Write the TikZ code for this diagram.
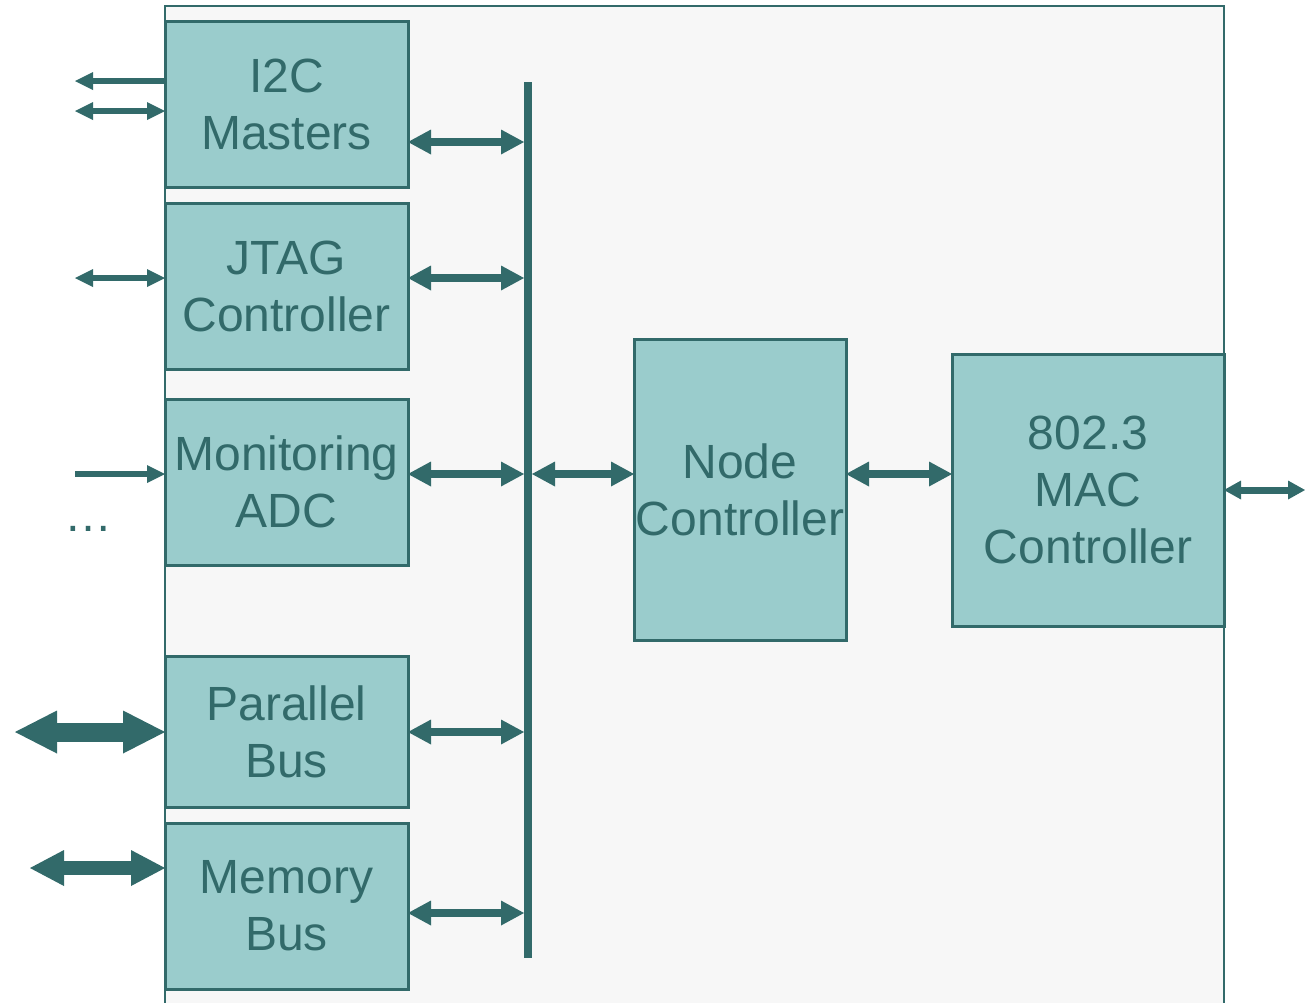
\documentclass[tikz,border=0pt]{standalone}
\usepackage{fontspec}
\setmainfont{Liberation Sans}
\usetikzlibrary{arrows.meta}
\definecolor{tealdark}{HTML}{326A6A}
\definecolor{tealfill}{HTML}{9ACCCC}
\definecolor{panelbg}{HTML}{F7F7F7}
\begin{document}
\begin{tikzpicture}[x=1pt,y=-1pt,
  block/.style={draw=tealdark, line width=3pt, fill=tealfill, text=tealdark,
    font=\fontsize{48}{57}\selectfont, align=center, inner sep=0pt, outer sep=0pt,
    minimum width=243pt, minimum height=166pt},
  busbar/.style={fill=tealdark, inner sep=0pt, outer sep=0pt, minimum width=8pt, minimum height=876pt},
  smallarr/.style={draw=tealdark, line width=6pt, arrows={-{Triangle[length=18pt,width=18pt,line width=0pt]}}},
  smallbi/.style={draw=tealdark, line width=6pt, arrows={{Triangle[length=18pt,width=18pt,line width=0pt]}-{Triangle[length=18pt,width=18pt,line width=0pt]}}},
  midbi/.style={draw=tealdark, line width=8.5pt, arrows={{Triangle[length=23pt,width=25pt,line width=0pt]}-{Triangle[length=23pt,width=25pt,line width=0pt]}}},
  outbi/.style={draw=tealdark, line width=7pt, arrows={{Triangle[length=17pt,width=19pt,line width=0pt]}-{Triangle[length=17pt,width=19pt,line width=0pt]}}},
  parbi/.style={draw=tealdark, line width=19pt, arrows={{Triangle[length=42pt,width=43pt,line width=0pt]}-{Triangle[length=42pt,width=43pt,line width=0pt]}}},
  membi/.style={draw=tealdark, line width=14pt, arrows={{Triangle[length=34pt,width=36pt,line width=0pt]}-{Triangle[length=34pt,width=36pt,line width=0pt]}}}
]
\clip (0,0) rectangle (1305,1002);
\fill[white] (0,0) rectangle (1305,1002);

% chip outline
\draw[draw=tealdark, line width=2.5pt, fill=panelbg] (165,6) rectangle (1224,1012);

% peripheral blocks
\node[block] (i2c)  at (286.5,104)   {I2C\\Masters};
\node[block] (jtag) at (286.5,286)   {JTAG\\Controller};
\node[block] (adc)  at (286.5,482)   {Monitoring\\ADC};
\node[block, minimum height=151pt] (par) at (286.5,731.5) {Parallel\\Bus};
\node[block] (mem)  at (286.5,906)   {Memory\\Bus};

% internal bus
\node[busbar] (bus) at (528,520) {};

% controllers
\node[block, minimum width=212pt, minimum height=301pt] (node) at (740,489.5) {Node\\Controller};
\node[block, minimum width=272pt, minimum height=272pt] (mac)  at (1088,490)  {802.3\\MAC\\Controller};

% external end points
\coordinate (i2cA) at (75,81);
\coordinate (i2cB) at (75,111);
\coordinate (jtagX) at (75,278);
\coordinate (adcX) at (75,474);
\coordinate (parX) at (15,732);
\coordinate (memX) at (30,868);
\coordinate (macX) at (1305,490);

% external connections
\draw[smallarr] (i2c.west |- i2cA) -- (i2cA);
\draw[smallbi] (i2cB) -- (i2c.west |- i2cB);
\draw[smallbi] (jtagX) -- (jtag.west |- jtagX);
\draw[smallarr] (adcX) -- (adc.west |- adcX);
\node[text=tealdark, font=\fontsize{48}{57}\selectfont, anchor=base, inner sep=0pt] (more) at (88,531) {…};
\draw[parbi] (parX) -- (par.west |- parX);
\draw[membi] (memX) -- (mem.west |- memX);
\draw[outbi] (mac.east |- macX) -- (macX);

% bus connections
\draw[midbi] (i2c.east |- 0,142) -- (bus.west |- 0,142);
\draw[midbi] (jtag.east |- 0,278) -- (bus.west |- 0,278);
\draw[midbi] (adc.east |- 0,474) -- (bus.west |- 0,474);
\draw[midbi] (par.east |- 0,732) -- (bus.west |- 0,732);
\draw[midbi] (mem.east |- 0,913) -- (bus.west |- 0,913);
\draw[midbi] (bus.east |- 0,474) -- (node.west |- 0,474);
\draw[midbi] (node.east |- 0,474) -- (mac.west |- 0,474);
\end{tikzpicture}
\end{document}
